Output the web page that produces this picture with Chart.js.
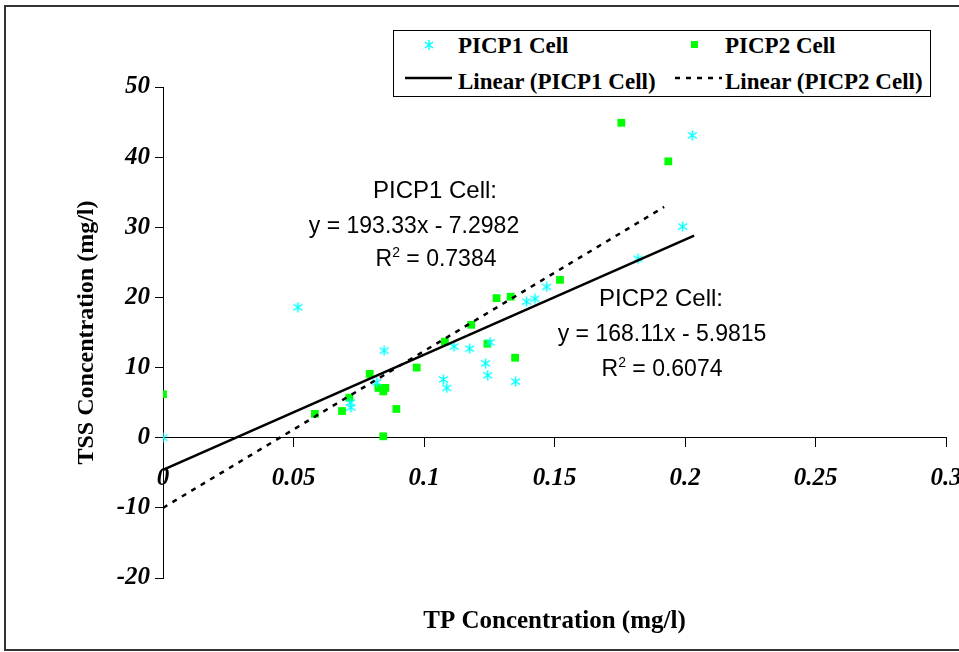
<!DOCTYPE html>
<html>
<head>
<meta charset="utf-8">
<title>TSS vs TP Concentration</title>
<script src="https://cdn.jsdelivr.net/npm/chart.js@4"></script>
<style>
  body { margin: 0; background: #fff; }
  #wrap { position: relative; width: 959px; height: 652px; overflow: hidden; }
  #frame { position: absolute; left: 4px; top: 5px; width: 975px; height: 642px; border: 2px solid #333; }
  canvas { position: absolute; left: 0; top: 0; }
  .legend { position: absolute; left: 393px; top: 30px; width: 536px; height: 65px; border: 1px solid #000; background: #fff;
            font-family: "Liberation Serif", serif; font-weight: bold; font-size: 23px; }
  .legend span, .legend svg { position: absolute; }
  .legend span { white-space: nowrap; line-height: 1; }
  .note { position: absolute; font-family: "Liberation Sans", Arial, sans-serif; font-size: 23px; white-space: nowrap;
          line-height: 1; transform: translate(-50%, -50%); }
  .note.head { font-size: 24px; }
  .note sup { font-size: 14px; vertical-align: 9px; line-height: 0; }
</style>
</head>
<body>
<div id="wrap">
  <canvas id="chart" width="959" height="652"></canvas>
  <div id="frame"></div>
  <div class="legend">
    <svg style="left:29px;top:8px" width="12" height="12"><g stroke="#00ffff" stroke-width="1.5"><line x1="6" y1="1" x2="6" y2="11"/><line x1="2" y1="3" x2="10" y2="9"/><line x1="2" y1="9" x2="10" y2="3"/></g></svg>
    <span style="left:64px;top:3px">PICP1 Cell</span>
    <svg style="left:297px;top:10px" width="8" height="8"><rect width="7" height="7" fill="#00ff00"/></svg>
    <span style="left:331px;top:3px">PICP2 Cell</span>
    <svg style="left:11px;top:45px" width="48" height="4"><line x1="0" y1="2" x2="47" y2="2" stroke="#000" stroke-width="2.5"/></svg>
    <span style="left:64px;top:39px">Linear (PICP1 Cell)</span>
    <svg style="left:281px;top:45px" width="48" height="4"><line x1="0" y1="2" x2="47" y2="2" stroke="#000" stroke-width="2.5" stroke-dasharray="5,6"/></svg>
    <span style="left:331px;top:39px">Linear (PICP2 Cell)</span>
  </div>
  <div class="note head" style="left:435px;top:190px">PICP1 Cell:</div>
  <div class="note" style="left:414px;top:225px">y = 193.33x - 7.2982</div>
  <div class="note" style="left:436px;top:258px">R<sup>2</sup> = 0.7384</div>
  <div class="note head" style="left:661px;top:298px">PICP2 Cell:</div>
  <div class="note" style="left:662px;top:333px">y = 168.11x - 5.9815</div>
  <div class="note" style="left:662px;top:368px">R<sup>2</sup> = 0.6074</div>
</div>
<script>
// data
const picp1X = [0, 0.0517, 0.0847, 0.0819, 0.0718, 0.072, 0.1074, 0.1087, 0.1115, 0.1175, 0.1236, 0.1244, 0.1253, 0.1351, 0.1393, 0.1425, 0.147, 0.182, 0.1991, 0.2028];
const picp1Y = [0, 18.6, 12.4, 7.9, 5.0, 4.3, 8.3, 7.1, 13.0, 12.7, 10.6, 8.9, 13.6, 8.0, 19.4, 19.8, 21.5, 25.5, 30.1, 43.1];
const picp2X = [0, 0.0582, 0.0686, 0.0714, 0.0792, 0.0825, 0.0852, 0.0844, 0.0844, 0.0894, 0.0972, 0.108, 0.1181, 0.1243, 0.1278, 0.1332, 0.1349, 0.1521, 0.1756, 0.1936];
const picp2Y = [6.2, 3.4, 3.8, 5.7, 9.1, 7.1, 7.1, 6.6, 0.2, 4.1, 10.0, 13.7, 16.1, 13.4, 19.9, 20.1, 11.4, 22.5, 44.9, 39.4];

// trend lines as drawn (end points)
const trend1X = [0, 0.2035];
const trend1Y = [-4.6, 28.8];
const trend2X = [0, 0.192];
const trend2Y = [-10, 32.9];

const xTickLabels = ['0', '0.05', '0.1', '0.15', '0.2', '0.25', '0.3'];
const yTickLabels = ['-20', '-10', '0', '10', '20', '30', '40', '50'];

function toPoints(xs, ys) {
    return xs.map((x, i) => ({ x: x, y: ys[i] }));
}

// excel style asterisk marker (vertical bar + two diagonals)
function asterisk() {
    const c = document.createElement('canvas');
    c.width = 11;
    c.height = 11;
    const g = c.getContext('2d');
    g.strokeStyle = '#00ffff';
    g.lineWidth = 1.5;
    g.beginPath();
    g.moveTo(5.5, 0.5); g.lineTo(5.5, 10.5);
    g.moveTo(1, 2.5); g.lineTo(10, 8.5);
    g.moveTo(1, 8.5); g.lineTo(10, 2.5);
    g.stroke();
    return c;
}

const tickFont = { family: 'Liberation Serif', size: 25, style: 'italic', weight: 'bold' };
const titleFont = { family: 'Liberation Serif', size: 24, weight: 'bold' };

new Chart(document.getElementById('chart'), {
    type: 'scatter',
    data: {
        datasets: [
            {
                label: 'Linear (PICP1 Cell)',
                data: toPoints(trend1X, trend1Y),
                showLine: true,
                borderColor: '#000',
                borderWidth: 2.5,
                pointRadius: 0
            },
            {
                label: 'Linear (PICP2 Cell)',
                data: toPoints(trend2X, trend2Y),
                showLine: true,
                borderColor: '#000',
                borderWidth: 2.5,
                borderDash: [5, 6],
                pointRadius: 0
            },
            {
                label: 'PICP1 Cell',
                data: toPoints(picp1X, picp1Y),
                pointStyle: asterisk(),
                pointRadius: 5
            },
            {
                label: 'PICP2 Cell',
                data: toPoints(picp2X, picp2Y),
                pointStyle: 'rect',
                pointRadius: 5.5,
                borderColor: '#00ff00',
                backgroundColor: '#00ff00',
                pointBorderWidth: 0
            }
        ]
    },
    options: {
        responsive: false,
        animation: false,
        layout: { padding: { left: 68, right: 13, top: 87, bottom: 5 } },
        plugins: {
            legend: { display: false },
            tooltip: { enabled: false },
            title: {
                display: true,
                position: 'bottom',
                fullSize: false,
                text: 'TP Concentration (mg/l)',
                color: '#000',
                font: { family: 'Liberation Serif', size: 25, weight: 'bold' },
                padding: { top: 29, bottom: 10 }
            }
        },
        scales: {
            x: {
                type: 'linear',
                position: { y: 0 },
                min: 0,
                max: 0.3,
                grid: { drawOnChartArea: false, tickLength: 9, color: '#000' },
                border: { display: true, color: '#000', width: 1 },
                ticks: {
                    stepSize: 0.05,
                    padding: 17,
                    color: '#000',
                    font: tickFont,
                    callback: (v, i) => xTickLabels[i]
                },
                afterFit: (scale) => { scale.paddingLeft = 0; scale.paddingRight = 0; }
            },
            y: {
                min: -20,
                max: 50,
                grid: { drawOnChartArea: false, tickLength: 8, color: '#000' },
                border: { display: true, color: '#000', width: 1 },
                ticks: {
                    stepSize: 10,
                    padding: 5,
                    color: '#000',
                    font: tickFont,
                    callback: (v, i) => yTickLabels[i]
                },
                title: {
                    display: true,
                    text: 'TSS Concentration (mg/l)',
                    color: '#000',
                    font: titleFont
                },
                afterFit: (scale) => { scale.width = 95; }
            }
        }
    }
});
</script>
</body>
</html>
